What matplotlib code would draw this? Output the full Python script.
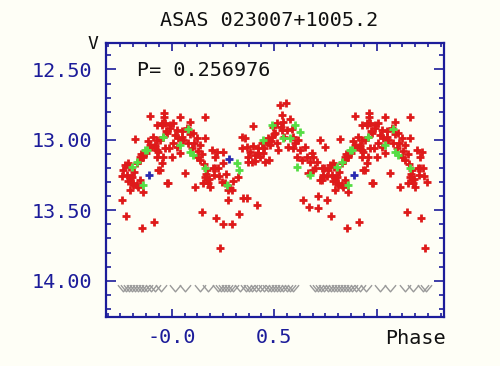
import numpy as np
import matplotlib
matplotlib.use("Agg")
import matplotlib.pyplot as plt
from matplotlib.path import Path
from matplotlib.ticker import FixedLocator, MultipleLocator, FixedFormatter

# ---------------- data (base phase in [0,1), V magnitude) ----------------
title = "ASAS 023007+1005.2"
period_text = "P= 0.256976"

red_phase = [
    0.008, 0.024, 0.041, 0.008, 0.024, 0.041, 0.049, 0.073, 0.089, 0.065,
    0.106, 0.122, 0.163, 0.138, 0.163, 0.122, 0.138, 0.171, 0.114, 0.146,
    0.163, 0.171, 0.179, 0.187, 0.154, 0.195, 0.211, 0.220, 0.252, 0.211,
    0.228, 0.216, 0.236, 0.252, 0.260, 0.285, 0.276, 0.293, 0.276, 0.252,
    0.293, 0.330, 0.325, 0.350, 0.366, 0.341, 0.358, 0.366, 0.382, 0.398,
    0.374, 0.390, 0.407, 0.423, 0.431, 0.447, 0.415, 0.463, 0.480, 0.488,
    0.496, 0.504, 0.512, 0.455, 0.475, 0.528, 0.558, 0.537, 0.545, 0.537,
    0.561, 0.577, 0.593, 0.642, 0.569, 0.593, 0.610, 0.626, 0.659, 0.667,
    0.512, 0.520, 0.016, 0.057, 0.081, 0.098,
    0.671, 0.715, 0.723, 0.682, 0.691, 0.674, 0.707, 0.731, 0.739, 0.731,
    0.723, 0.715, 0.691,
    0.748, 0.745, 0.756, 0.764, 0.780, 0.797, 0.813, 0.829, 0.846, 0.759,
    0.777, 0.854, 0.914, 0.821, 0.793, 0.829, 0.846, 0.862, 0.862, 0.875,
    0.894, 0.902, 0.919, 0.927, 0.935, 0.951, 0.943, 0.962, 0.967, 0.951,
    0.976, 0.959, 0.976, 0.992,
    0.926, 0.943, 0.959, 0.967, 0.951, 0.926, 0.983, 0.964, 0.991, 0.999,
    0.804, 0.813, 0.837, 0.796, 0.845, 0.788, 0.894, 0.918, 0.935,
    # additional points in the denser clusters
    0.032, 0.052, 0.090, 0.110, 0.130, 0.150, 0.158, 0.168, 0.184, 0.200,
    0.205, 0.232, 0.244, 0.265, 0.300, 0.345, 0.372, 0.395, 0.405, 0.420,
    0.440, 0.452, 0.468, 0.485, 0.500, 0.533, 0.550, 0.585, 0.600, 0.618,
    0.635, 0.650, 0.700, 0.740, 0.770, 0.785, 0.818, 0.852, 0.884, 0.908,
    0.930, 0.972, 0.985,
]
red_mag = [
    12.883, 12.930, 12.840, 13.025, 13.048, 13.096, 12.977, 12.918, 12.871, 13.238,
    12.954, 12.989, 12.989, 13.037, 12.840, 13.119, 13.143, 13.214, 13.333, 13.510,
    13.262, 13.285, 13.309, 13.333, 13.309, 13.072, 13.119, 13.084, 13.084, 13.202,
    13.202, 13.553, 13.766, 13.167, 13.309, 13.344, 13.356, 13.356, 13.427, 13.600,
    13.600, 13.527, 13.262, 13.415, 13.415, 12.977, 12.989, 13.048, 13.084, 12.902,
    13.119, 13.155, 13.108, 13.060, 13.119, 13.096, 13.463, 13.013, 13.037, 12.977,
    12.906, 12.954, 12.883, 13.155, 13.143, 12.753, 12.736, 12.824, 12.871, 12.930,
    12.930, 12.852, 12.977, 13.427, 13.048, 13.060, 13.119, 13.072, 13.119, 13.238,
    13.025, 13.072, 12.966, 13.001, 13.025, 13.060,
    13.475, 13.486, 13.001, 13.096, 13.119, 13.155, 13.155, 13.202, 13.262, 13.285,
    13.285, 13.400, 13.214,
    13.053, 13.200, 13.260, 13.214, 13.250, 13.273, 13.321, 13.321, 13.285, 13.427,
    13.539, 13.624, 13.586, 12.996, 13.190, 13.162, 13.143, 13.119, 13.368, 13.096,
    12.828, 13.048, 13.037, 13.072, 13.214, 13.167, 13.001, 12.812, 12.883, 12.895,
    12.954, 12.977, 13.309, 12.895,
    13.119, 13.214, 13.119, 13.060, 12.883, 12.895, 13.309, 12.835, 12.918, 13.119,
    13.262, 13.309, 13.333, 13.356, 13.119, 13.167, 13.037, 13.048, 13.084,
    # additional
    12.990, 12.940, 12.960, 13.020, 13.080, 13.100, 13.170, 13.240, 13.280, 13.200,
    13.250, 13.260, 13.300, 13.240, 13.290, 13.060, 13.160, 13.040, 13.150, 13.090,
    13.020, 13.060, 12.990, 13.010, 12.960, 12.910, 12.980, 12.920, 13.020, 13.000,
    13.140, 13.050, 13.200, 13.250, 13.180, 13.290, 13.230, 13.100, 13.010, 12.980,
    13.000, 12.940, 13.060,
]

green_phase = [0.081, 0.041, 0.089, 0.106, 0.163, 0.268, 0.317, 0.330, 0.447, 0.488,
               0.545, 0.577, 0.602, 0.610, 0.805, 0.862, 0.870, 0.626, 0.674, 0.829,
               0.878, 0.959]
green_mag = [12.925, 13.037, 13.084, 13.108, 13.202, 13.321, 13.162, 13.214, 13.001, 12.895,
             12.989, 12.989, 12.895, 13.190, 13.195, 13.321, 13.072, 12.942, 13.250, 13.155,
             13.072, 12.977]

blue_phase = [0.280, 0.891]
blue_mag = [13.138, 13.250]

limit_phase = [0.016, 0.065, 0.138, 0.179, 0.225, 0.240, 0.255, 0.270, 0.285, 0.300,
               0.335, 0.360, 0.375, 0.390, 0.410, 0.430, 0.450, 0.470, 0.485, 0.500,
               0.515, 0.530, 0.545, 0.560, 0.575, 0.590, 0.700, 0.715, 0.730, 0.745,
               0.760, 0.775, 0.790, 0.805, 0.820, 0.835, 0.850, 0.865, 0.880, 0.900,
               0.920, 0.950]
limit_mag = [14.055] * len(limit_phase)

y_ticks = [12.5, 13.0, 13.5, 14.0]
y_tick_labels = ["12.50", "13.00", "13.50", "14.00"]
x_ticks = [0.0, 0.5, 1.0]
x_tick_labels = ["-0.0", "0.5", ""]

PH_LO, PH_HI = -0.25, 1.25


def fold(ph, mag):
    """Plot each phase once, plus its copy one cycle away if it falls in the shown window."""
    ph = np.asarray(ph, float)
    mag = np.asarray(mag, float)
    x = np.concatenate([ph, ph - 1.0, ph + 1.0])
    y = np.concatenate([mag, mag, mag])
    keep = (x >= PH_LO) & (x <= PH_HI)
    return x[keep], y[keep]


# ---------------- figure ----------------
BG = "#fefef6"
NAVY = "#1c1c9a"
mono = "DejaVu Sans Mono"

fig = plt.figure(figsize=(5.0, 3.66), dpi=100, facecolor=BG)
ax = fig.add_axes([0.212, 0.1339, 0.676, 0.7486], facecolor=BG)

vmark = Path([(-1, 0.6), (0, -0.6), (1, 0.6)], [Path.MOVETO, Path.LINETO, Path.LINETO])
x, y = fold(limit_phase, limit_mag)
ax.plot(x, y, linestyle="none", marker=vmark, markersize=8, markerfacecolor="none",
        markeredgecolor="#9a9a9a", markeredgewidth=1.0)

x, y = fold(red_phase, red_mag)
ax.plot(x, y, linestyle="none", marker="+", markersize=5.5, markeredgewidth=2.0,
        color="#de1a1a")
x, y = fold(green_phase, green_mag)
ax.plot(x, y, linestyle="none", marker="+", markersize=5.5, markeredgewidth=2.0,
        color="#55dd44")
x, y = fold(blue_phase, blue_mag)
ax.plot(x, y, linestyle="none", marker="+", markersize=5.5, markeredgewidth=2.0,
        color="#2a2ab0")

ax.set_xlim(-0.3205, 1.328)
ax.set_ylim(14.258, 12.312)

for s in ax.spines.values():
    s.set_color(NAVY)
    s.set_linewidth(1.6)

ax.xaxis.set_major_locator(FixedLocator(x_ticks))
ax.xaxis.set_major_formatter(FixedFormatter(x_tick_labels))
ax.xaxis.set_minor_locator(MultipleLocator(0.0625))
ax.yaxis.set_major_locator(FixedLocator(y_ticks))
ax.yaxis.set_major_formatter(FixedFormatter(y_tick_labels))
ax.yaxis.set_minor_locator(MultipleLocator(0.1))

ax.tick_params(axis="both", which="both", direction="in", colors=NAVY,
               top=True, right=True, width=1.2)
ax.tick_params(axis="x", which="major", length=5.5, pad=8)
ax.tick_params(axis="x", which="minor", length=3)
ax.tick_params(axis="y", which="major", length=7, pad=10)
ax.tick_params(axis="y", which="minor", length=3.5)
for lab in ax.get_xticklabels() + ax.get_yticklabels():
    lab.set_fontfamily(mono)
    lab.set_fontsize(14.5)
    lab.set_color(NAVY)

fig.text(269 / 500, 1 - 20 / 366, title, ha="center", va="center",
         fontfamily=mono, fontsize=14.5, color="#111111")
fig.text(93 / 500, 1 - 44 / 366, "V", ha="center", va="center",
         fontfamily=mono, fontsize=13, color="#111111")
fig.text(137 / 500, 1 - 70 / 366, period_text, ha="left", va="center",
         fontfamily=mono, fontsize=14.5, color="#111111")
fig.text(446 / 500, 1 - 338 / 366, "Phase", ha="right", va="center",
         fontfamily=mono, fontsize=14.5, color="#111111")

fig.savefig("out.png", dpi=100, facecolor=BG)
